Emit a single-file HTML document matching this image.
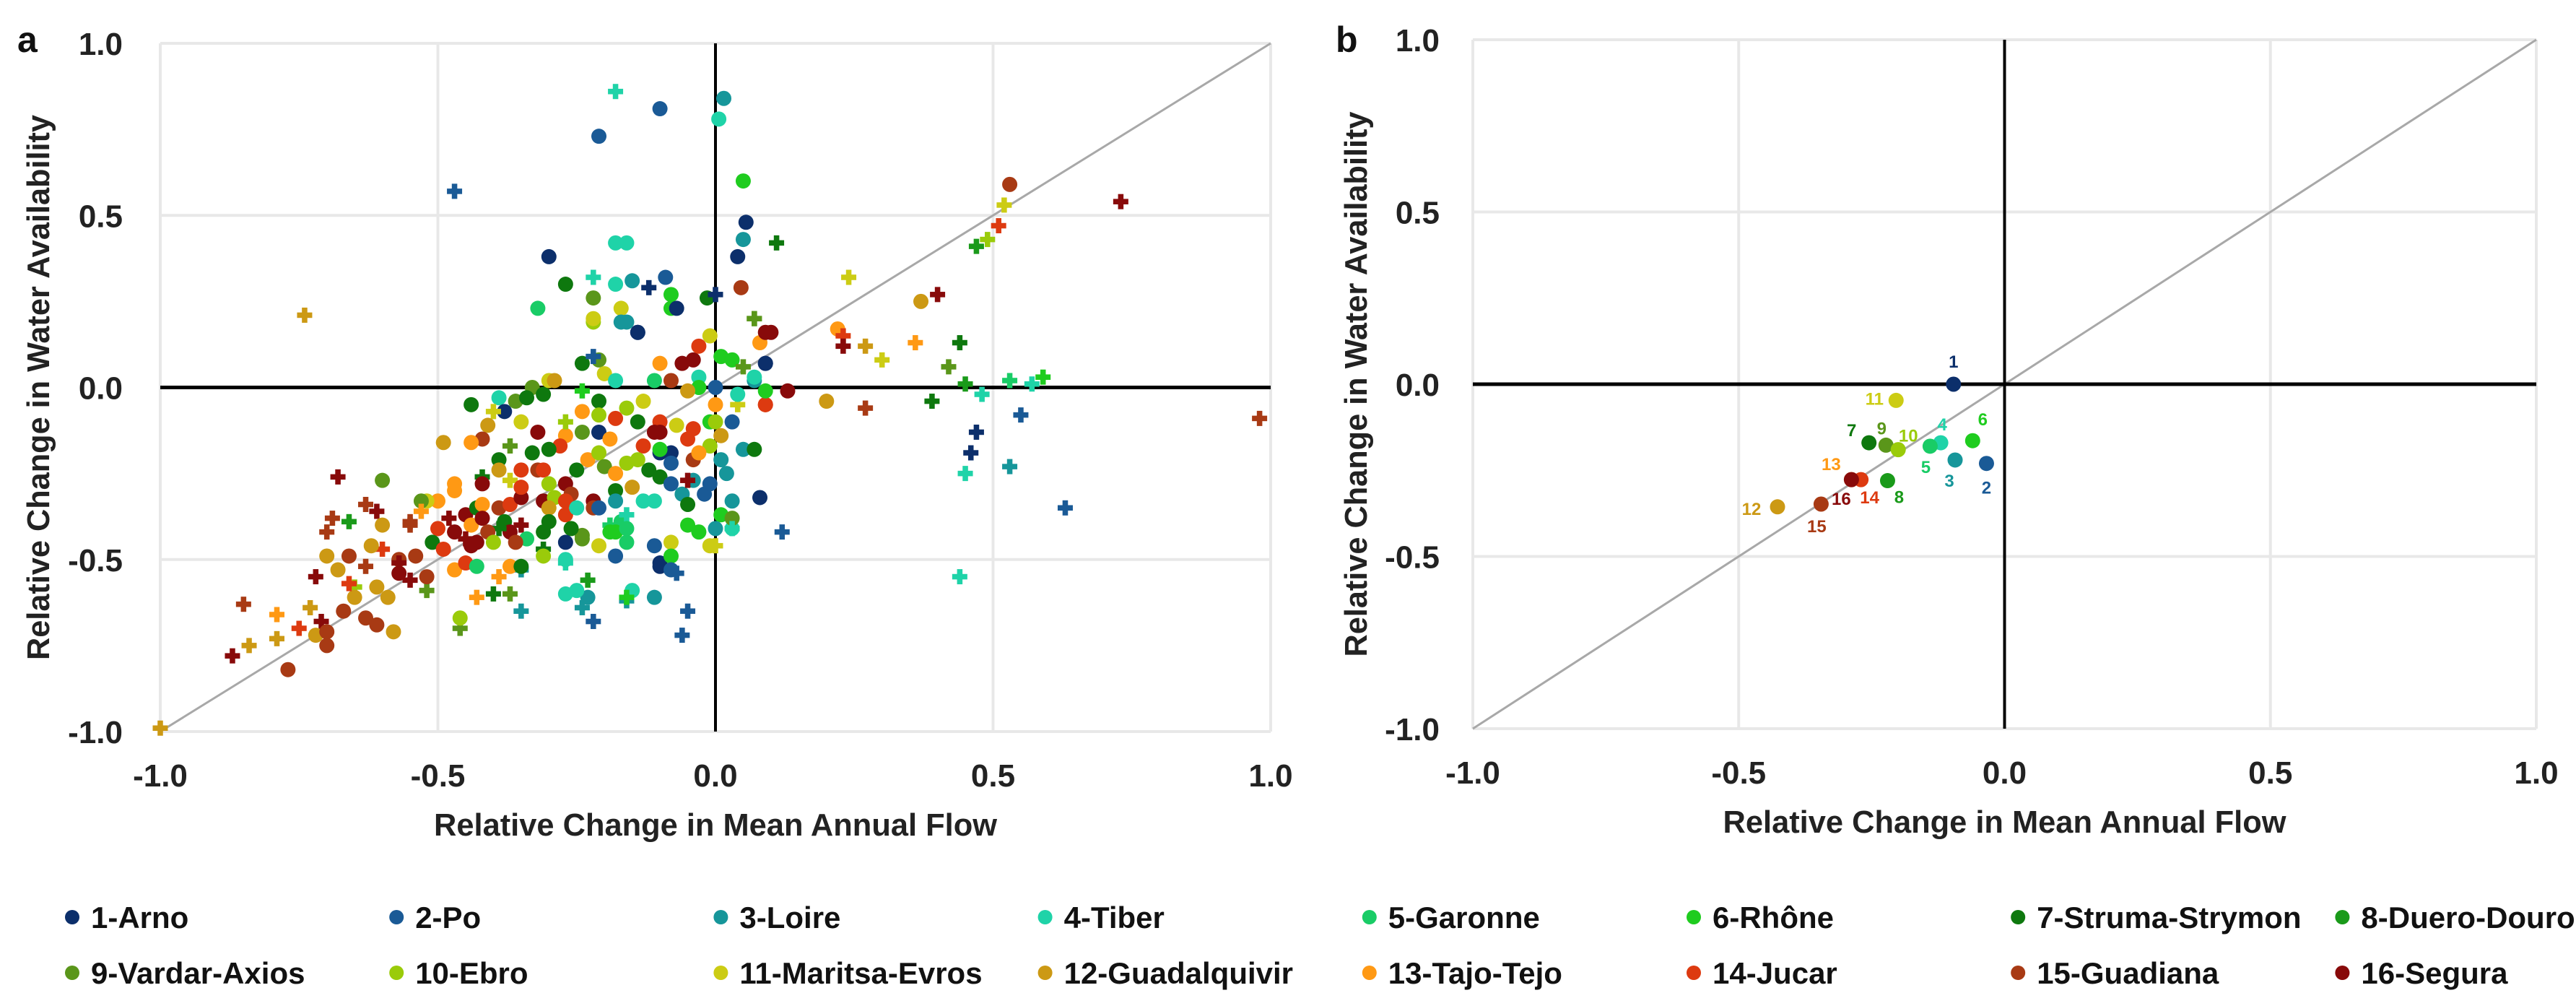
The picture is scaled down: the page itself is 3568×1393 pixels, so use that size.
<!DOCTYPE html>
<html><head><meta charset="utf-8"><style>
html,body{margin:0;padding:0;background:#fff;}
svg{display:block;font-family:"Liberation Sans",sans-serif;font-weight:bold;}
</style></head><body>
<svg id="chart" width="3568" height="1393" viewBox="0 0 3568 1393" xmlns="http://www.w3.org/2000/svg"></svg>
<script>
const seriesNames=["1-Arno","2-Po","3-Loire","4-Tiber","5-Garonne","6-Rhône","7-Struma-Strymon","8-Duero-Douro","9-Vardar-Axios","10-Ebro","11-Maritsa-Evros","12-Guadalquivir","13-Tajo-Tejo","14-Jucar","15-Guadiana","16-Segura"];
const seriesColors=["#0c2f6b","#1a5a96","#16969a","#1fd3a8","#19cc66","#1fcc1f","#0e780e","#1a9a1a","#5a961a","#9acb0a","#cccc14","#cc9914","#ff9914","#dd3a10","#a83a14","#880a0a"];
const tickValues=[-1,-0.5,0,0.5,1];
const tickLabels=["-1.0","-0.5","0.0","0.5","1.0"];
// panel a: x, y, series (1-16), marker (0 circle, 1 plus)
const aX=[
-0.18,-0.10,-0.21,0.015,0.006,-0.47,0.05,0.53,0.73,0.52,
0.51,0.055,0.05,0.11,0.49,0.47,0.04,-0.30,-0.18,-0.16,
-0.74,0.24,0.40,0.37,-0.32,-0.27,-0.22,-0.15,-0.18,-0.12,
-0.09,-0.08,-0.08,-0.07,-0.22,-0.22,-0.17,-0.16,-0.14,-0.015,
0.0,0.046,0.07,0.10,0.22,0.23,0.23,0.27,0.36,0.30,
0.44,0.42,0.45,0.53,0.57,0.59,0.39,0.48,0.98,0.55,
0.47,0.46,0.53,0.45,0.63,0.44,0.13,0.20,0.27,0.09,
0.12,0.08,0.07,0.09,0.03,0.0,-0.05,-0.06,-0.07,-0.10,
-0.16,-0.11,-0.15,-0.16,-0.22,-0.24,-0.23,-0.27,-0.25,-0.23,
-0.27,-0.35,-0.40,-0.37,-0.46,-0.46,-0.52,-0.43,-0.39,-0.35,
-0.68,-0.60,-0.69,-0.70,-0.66,-0.63,-0.61,-0.60,-0.55,-0.70,
-0.66,-0.72,-0.68,-0.63,-0.60,-0.57,-0.57,-0.62,-0.65,-0.65,
-0.61,-0.59,-0.66,-0.85,-0.67,-0.79,-0.73,-0.71,-0.75,-0.63,
-0.61,-0.58,-0.79,-0.84,-0.72,-0.70,-0.70,-0.87,-0.77,-1.0,
-0.55,-0.52,
-0.22,-0.17,-0.14,-0.24,-0.21,-0.20,-0.18,-0.22,-0.10,-0.06,
-0.04,-0.03,-0.01,-0.03,-0.03,-0.08,-0.11,0.00,0.01,0.03,
0.05,0.07,0.09,0.08,0.09,0.07,-0.05,0.00,0.04,0.09,
0.09,0.04,0.03,-0.01,0.00,-0.07,-0.10,-0.11,-0.10,-0.04,
-0.05,-0.01,0.01,0.05,0.07,-0.13,-0.14,-0.13,-0.16,-0.18,
-0.21,-0.21,-0.24,-0.24,-0.21,-0.19,-0.24,-0.27,-0.28,-0.27,
-0.39,-0.38,-0.35,-0.36,-0.33,-0.31,-0.30,-0.29,-0.34,-0.44,
-0.40,-0.41,-0.42,-0.44,-0.49,-0.32,-0.37,-0.33,-0.30,-0.39,
-0.39,-0.35,-0.32,-0.31,-0.42,-0.42,-0.37,-0.47,-0.47,-0.50,
-0.52,-0.53,-0.55,-0.53,-0.48,-0.50,-0.45,-0.44,-0.43,-0.42,
-0.42,-0.39,-0.37,-0.35,-0.35,-0.31,-0.30,-0.29,-0.27,-0.26,
-0.27,-0.30,-0.30,-0.27,-0.25,-0.22,-0.22,-0.21,-0.25,-0.23,
-0.21,-0.20,-0.18,-0.16,-0.14,-0.12,-0.10,-0.15,-0.18,-0.18,
-0.13,-0.11,-0.10,-0.08,-0.08,-0.10,-0.08,-0.06,-0.05,-0.04,
-0.04,-0.03,-0.02,-0.01,0.01,0.02,0.03,0.01,0.03,0.03,
0.00,-0.01,-0.03,-0.05,-0.19,-0.17,-0.16,-0.19,-0.18,-0.16,
-0.16,-0.18,-0.21,-0.24,-0.26,-0.27,-0.11,-0.10,-0.08,-0.08,
-0.08,-0.05,-0.38,-0.37,-0.35,-0.34,-0.36,-0.31,-0.31,-0.31,
-0.39,-0.41,-0.40,-0.43,-0.45,-0.44,-0.47,-0.51,-0.49,-0.54,
-0.57,-0.47,-0.45,-0.43,-0.37,-0.35,-0.27,-0.24
];
const aY=[
0.86,0.81,0.73,0.84,0.78,0.57,0.60,0.59,0.54,0.53,
0.47,0.48,0.43,0.42,0.43,0.41,0.38,0.38,0.42,0.42,
0.21,0.32,0.27,0.25,0.23,0.30,0.32,0.31,0.30,0.29,
0.32,0.27,0.23,0.23,0.19,0.26,0.23,0.19,0.16,0.26,
0.27,0.29,0.20,0.16,0.17,0.15,0.12,0.12,0.13,0.08,
0.13,0.06,0.01,0.02,0.01,0.03,-0.04,-0.02,-0.09,-0.08,
-0.13,-0.19,-0.23,-0.25,-0.35,-0.55,-0.01,-0.04,-0.06,-0.05,
-0.42,-0.32,0.02,0.07,-0.41,-0.46,-0.65,-0.72,-0.54,-0.51,
-0.62,-0.61,-0.59,-0.61,-0.68,-0.64,-0.61,-0.60,-0.59,-0.56,
-0.51,-0.65,-0.60,-0.60,-0.70,-0.67,-0.59,-0.61,-0.55,-0.53,
-0.26,-0.27,-0.38,-0.42,-0.39,-0.34,-0.36,-0.40,-0.40,-0.49,
-0.49,-0.55,-0.53,-0.52,-0.47,-0.50,-0.54,-0.46,-0.58,-0.61,
-0.58,-0.61,-0.57,-0.63,-0.65,-0.66,-0.64,-0.68,-0.70,-0.67,
-0.69,-0.71,-0.73,-0.75,-0.72,-0.71,-0.75,-0.78,-0.82,-0.99,
-0.56,-0.55,
0.20,0.19,0.16,0.07,0.08,0.04,0.02,0.09,0.07,0.07,
0.08,0.12,0.15,0.03,0.00,0.02,0.02,0.00,0.09,0.08,
0.06,0.03,0.07,0.13,0.16,0.20,-0.01,-0.05,-0.05,-0.05,
-0.01,-0.02,-0.10,-0.10,-0.10,-0.11,-0.10,-0.13,-0.13,-0.12,
-0.15,-0.17,-0.14,-0.18,-0.18,-0.17,-0.10,-0.04,-0.06,-0.09,
-0.04,-0.08,-0.07,-0.01,-0.13,-0.15,-0.13,-0.14,-0.17,-0.10,
-0.03,-0.07,-0.10,-0.04,0.00,-0.02,0.02,0.02,-0.03,-0.05,
-0.07,-0.11,-0.15,-0.16,-0.16,-0.13,-0.17,-0.19,-0.18,-0.21,
-0.24,-0.24,-0.24,-0.24,-0.26,-0.28,-0.27,-0.28,-0.30,-0.33,
-0.33,-0.33,-0.39,-0.36,-0.38,-0.41,-0.37,-0.40,-0.35,-0.34,
-0.38,-0.35,-0.34,-0.32,-0.29,-0.33,-0.28,-0.32,-0.28,-0.31,
-0.33,-0.35,-0.39,-0.37,-0.35,-0.33,-0.35,-0.35,-0.24,-0.21,
-0.19,-0.23,-0.25,-0.22,-0.21,-0.24,-0.26,-0.29,-0.30,-0.33,
-0.33,-0.33,-0.19,-0.19,-0.22,-0.18,-0.28,-0.31,-0.34,-0.27,
-0.21,-0.19,-0.31,-0.28,-0.21,-0.25,-0.33,-0.37,-0.38,-0.41,
-0.41,-0.46,-0.42,-0.40,-0.40,-0.39,-0.37,-0.42,-0.42,-0.45,
-0.41,-0.49,-0.46,-0.43,-0.41,-0.45,-0.46,-0.52,-0.45,-0.49,
-0.53,-0.27,-0.39,-0.42,-0.40,-0.44,-0.45,-0.42,-0.47,-0.49,
-0.41,-0.42,-0.45,-0.45,-0.44,-0.46,-0.42,-0.45,-0.47,-0.49,
-0.51,-0.53,-0.51,-0.52,-0.52,-0.52,-0.50,-0.44
];
const aSeries=[
4,2,2,3,4,2,6,15,16,11,
14,1,3,7,10,8,1,1,4,4,
12,11,16,12,5,7,4,3,4,1,
2,6,6,1,10,9,11,3,1,7,
1,15,9,16,13,14,16,12,13,11,
7,9,8,5,4,6,7,4,15,2,
1,1,3,4,2,4,16,12,15,14,
2,1,3,1,4,11,2,2,2,1,
3,3,4,6,2,3,3,4,4,8,
4,3,7,9,9,10,9,13,13,3,
16,9,15,15,8,15,16,12,15,12,
15,16,12,15,14,15,16,12,10,12,
12,12,14,15,15,13,12,16,14,15,
15,12,12,12,12,15,15,16,15,12,
16,15,
11,3,1,7,9,11,4,2,13,16,
16,14,11,4,6,15,5,2,6,6,
9,4,1,13,16,9,12,13,11,14,
6,4,2,6,10,11,14,16,16,14,
14,10,12,3,7,14,7,11,10,14,
7,10,13,6,1,13,9,13,14,10,
4,1,11,9,9,7,11,12,7,7,
11,12,15,13,12,16,9,7,7,7,
12,14,15,14,7,16,11,13,13,13,
11,9,15,13,16,14,16,13,7,13,
16,15,14,16,14,16,10,10,16,15,
14,12,7,14,4,16,15,2,7,13,
10,9,13,10,10,7,7,12,7,3,
4,4,1,1,2,6,2,3,7,3,
15,13,2,2,3,3,3,6,9,4,
3,11,6,6,5,5,4,6,6,5,
5,2,11,9,7,1,2,1,11,6,
2,16,7,16,16,5,15,7,7,10,
7,15,10,16,16,16,16,7,14,15,
16,13,14,5,13,7,4,9
];
const aMarker=[
1,0,0,0,0,1,0,0,1,1,
1,0,0,1,1,1,0,0,0,0,
1,1,1,0,0,0,1,0,0,1,
0,0,0,0,0,0,0,0,0,0,
1,0,1,0,0,1,1,1,1,1,
1,1,1,1,1,1,1,1,1,1,
1,1,1,1,1,1,0,0,1,0,
1,0,0,0,0,1,1,1,1,0,
1,0,0,1,1,1,0,0,0,1,
1,1,1,1,1,0,1,1,1,1,
1,0,1,1,1,1,1,0,1,0,
0,1,0,1,1,0,0,0,1,0,
0,0,1,1,0,1,1,1,1,0,
0,0,1,1,0,0,0,1,0,1,
1,0,
0,0,0,0,0,0,0,1,0,0,
0,0,0,0,0,0,0,0,0,0,
1,0,0,0,0,1,0,0,1,0,
0,0,0,0,0,0,0,0,0,0,
0,0,0,0,0,0,0,0,0,0,
0,0,0,1,0,0,0,0,0,1,
0,0,0,0,0,0,0,0,0,0,
1,0,0,0,0,0,1,0,0,0,
0,0,0,0,1,0,1,0,0,0,
0,0,1,1,1,0,0,0,0,0,
0,0,0,0,0,0,0,0,0,0,
0,0,0,0,0,0,0,0,0,0,
0,0,0,0,0,0,0,0,0,0,
0,0,0,0,0,0,0,0,0,0,
0,0,0,0,0,0,0,0,0,1,
0,0,0,0,1,0,1,0,0,0,
0,0,0,0,0,0,0,0,0,0,
0,1,0,0,1,0,0,0,1,0,
1,0,0,0,1,0,0,0,0,0,
1,0,0,0,0,0,0,0,0,1,
0,1,0,0,1,0,0,0,0,0,
0,0,1,0,1,0,1,0,0,0,
1,0,0,0,0,0,1,0
];
// panel b: basin means
const bX=[-0.096,-0.034,-0.093,-0.12,-0.14,-0.06,-0.255,-0.22,-0.223,-0.20,-0.204,-0.427,-0.288,-0.27,-0.345,-0.288];
const bY=[0.0,-0.23,-0.22,-0.17,-0.18,-0.164,-0.17,-0.28,-0.177,-0.19,-0.047,-0.356,-0.277,-0.277,-0.348,-0.277];
const bLabels=["1","2","3","4","5","6","7","8","9","10","11","12","13","14","15","16"];
// label offsets (styling only, px)
const bLabelDx=[0,0,-8,2,-6,14,-24,16,-6,14,-30,-36,-28,12,-6,-14];
const bLabelDy=[-32,33,28,-26,28,-30,-18,22,-24,-20,-3,2,-22,24,30,26];

const NS="http://www.w3.org/2000/svg";
const svg=document.getElementById("chart");
function el(tag,attrs,parent){const e=document.createElementNS(NS,tag);for(const k in attrs)e.setAttribute(k,attrs[k]);(parent||svg).appendChild(e);return e;}

function makePanel(p){
  const g=el("g",{});
  
  
  const sx=v=>p.x0+(v+1)/2*(p.x1-p.x0);
  const sy=v=>p.y1-(v+1)/2*(p.y1-p.y0);
  tickValues.forEach((v,i)=>{
    const gx=el("line",{x1:sx(v),x2:sx(v),y1:p.y0,y2:p.y1,stroke:"#e8e8e8","stroke-width":4},g);
    
    
    const gy=el("line",{x1:p.x0,x2:p.x1,y1:sy(v),y2:sy(v),stroke:"#e8e8e8","stroke-width":4},g);
    
    
    const tx=el("text",{x:sx(v),y:p.y1+76,"text-anchor":"middle","font-size":44,fill:"#222"},g);
    tx.textContent=tickLabels[i];
    
    
    const ty=el("text",{x:p.x0-p.ylabGap,y:sy(v)+16,"text-anchor":"end","font-size":44,fill:"#222"},g);
    ty.textContent=tickLabels[i];
    
    
  });
  const diag=el("line",{x1:sx(-1),y1:sy(-1),x2:sx(1),y2:sy(1),stroke:"#a8a8a8","stroke-width":3},g);
  
  
  const ax=el("line",{x1:p.x0,x2:p.x1,y1:sy(0),y2:sy(0),stroke:"#000","stroke-width":5},g);
  
  
  const ay=el("line",{x1:sx(0),x2:sx(0),y1:p.y0,y2:p.y1,stroke:"#000","stroke-width":4},g);
  
  
  const xt=el("text",{x:(p.x0+p.x1)/2,y:p.y1+144,"text-anchor":"middle","font-size":44,fill:"#222",textLength:780,lengthAdjust:"spacingAndGlyphs"},g);
  xt.textContent="Relative Change in Mean Annual Flow";
  
  
  const cy=(p.y0+p.y1)/2;
  const yt=el("text",{x:p.ytitleX,y:cy,"text-anchor":"middle","font-size":44,fill:"#222",textLength:755,lengthAdjust:"spacingAndGlyphs",transform:`rotate(-90 ${p.ytitleX} ${cy})`},g);
  yt.textContent="Relative Change in Water Availability";
  
  
  const lt=el("text",{x:p.letterX,y:72,"font-size":50,fill:"#111"},g);
  lt.textContent=p.letter;
  
  
  return {g,sx,sy};
}

function marker(g,x,y,s,m,r){
  const c=seriesColors[s-1];
  if(m===1){
    const pg=el("g",{fill:c},g);
    el("rect",{x:x-r,y:y-r*0.36,width:2*r,height:r*0.72},pg);
    el("rect",{x:x-r*0.36,y:y-r,width:r*0.72,height:2*r},pg);
    
    
  } else {
    const ci=el("circle",{cx:x,cy:y,r:r,fill:c},g);
    
    
  }
}

const A=makePanel({name:"panel-a",x0:222,x1:1760,y0:60,y1:1013,ylabGap:52,ytitleX:68,letterX:24,letter:"a"});
const ag=el("g",{},A.g);


for(let i=0;i<aX.length;i++){
  marker(ag,A.sx(aX[i]),A.sy(aY[i]),aSeries[i]||1,aMarker[i]||0,10.5);
}

const B=makePanel({name:"panel-b",x0:2040,x1:3513,y0:55,y1:1009,ylabGap:46,ytitleX:1893,letterX:1850,letter:"b"});
const bg=el("g",{},B.g);


for(let i=0;i<bX.length;i++){
  const x=B.sx(bX[i]),y=B.sy(bY[i]);
  marker(bg,x,y,i+1,0,10.5);
  const t=el("text",{x:x+bLabelDx[i],y:y+bLabelDy[i]+9,"text-anchor":"middle","font-size":24,fill:seriesColors[i]},bg);
  t.textContent=bLabels[i];
  
  
}

// legend
const lg=el("g",{});


seriesNames.forEach((n,i)=>{
  const row=Math.floor(i/8), col=i%8;
  const cx=100+col*449.2, cy=row===0?1270:1347;
  const it=el("g",{},lg);
  
  
  el("circle",{cx:cx,cy:cy,r:10,fill:seriesColors[i]},it);
  const t=el("text",{x:cx+26,y:cy+15,"font-size":42,fill:"#111"},it);
  t.textContent=n;
});
</script>
</body></html>
